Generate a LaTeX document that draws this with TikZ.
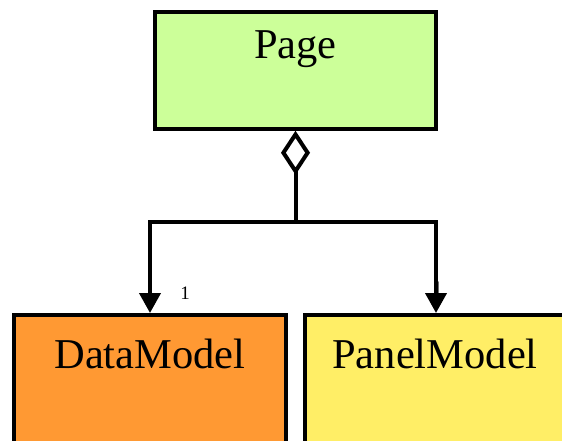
\documentclass[tikz,border=0pt]{standalone}
\usepackage{fontspec}
\setmainfont{Liberation Serif}
\usetikzlibrary{arrows.meta,calc}
\definecolor{pagefill}{HTML}{CCFF99}
\definecolor{datafill}{HTML}{FF9933}
\definecolor{panelfill}{HTML}{FFEE66}
\tikzset{
  classbox/.style={draw=black, line width=3.5pt, rectangle, inner sep=0pt},
  classname/.style={anchor=base, font=\fontsize{42.5}{50}\selectfont, inner sep=0pt},
  mult/.style={font=\fontsize{19}{22}\selectfont, inner sep=0pt},
  conn/.style={line width=4pt, draw=black},
}
\begin{document}
\begin{tikzpicture}[x=1pt,y=-1pt]
  \useasboundingbox (0,0) rectangle (562,440);
  \clip (0,0) rectangle (562,440);
  % class boxes
  \node[classbox, fill=pagefill, minimum width=281pt, minimum height=117pt] (page) at (295.5,70.5) {};
  \node[classname] (pagename) at ($(page.north)+(0,48)$) {Page};
  \node[classbox, fill=datafill, minimum width=272pt, minimum height=160pt, anchor=north] (data) at (150,313) {};
  \node[classname] (dataname) at ($(data.north)+(0,55)$) {DataModel};
  \node[classbox, fill=panelfill, minimum width=262pt, minimum height=160pt, anchor=north] (panel) at (436,313) {};
  \node[classname] (panelname) at ($(panel.north)+(-1,55)$) {PanelModel};
  % multiplicities
  \node[mult] (multdata) at (185,293.5) {1};
  \node[mult] (multpanel) at (437.5,288) {1};
  % aggregation connectors
  \coordinate (fork) at (295.5,222);
  \draw[conn, {Diamond[open, length=44pt, width=29pt]}-] (page.south) -- (fork);
  \draw[conn, -{Triangle[length=20pt, width=21pt]}] (fork) -| (data.north);
  \draw[conn, -{Triangle[length=20pt, width=21pt]}] (fork) -| (panel.north);
\end{tikzpicture}
\end{document}
